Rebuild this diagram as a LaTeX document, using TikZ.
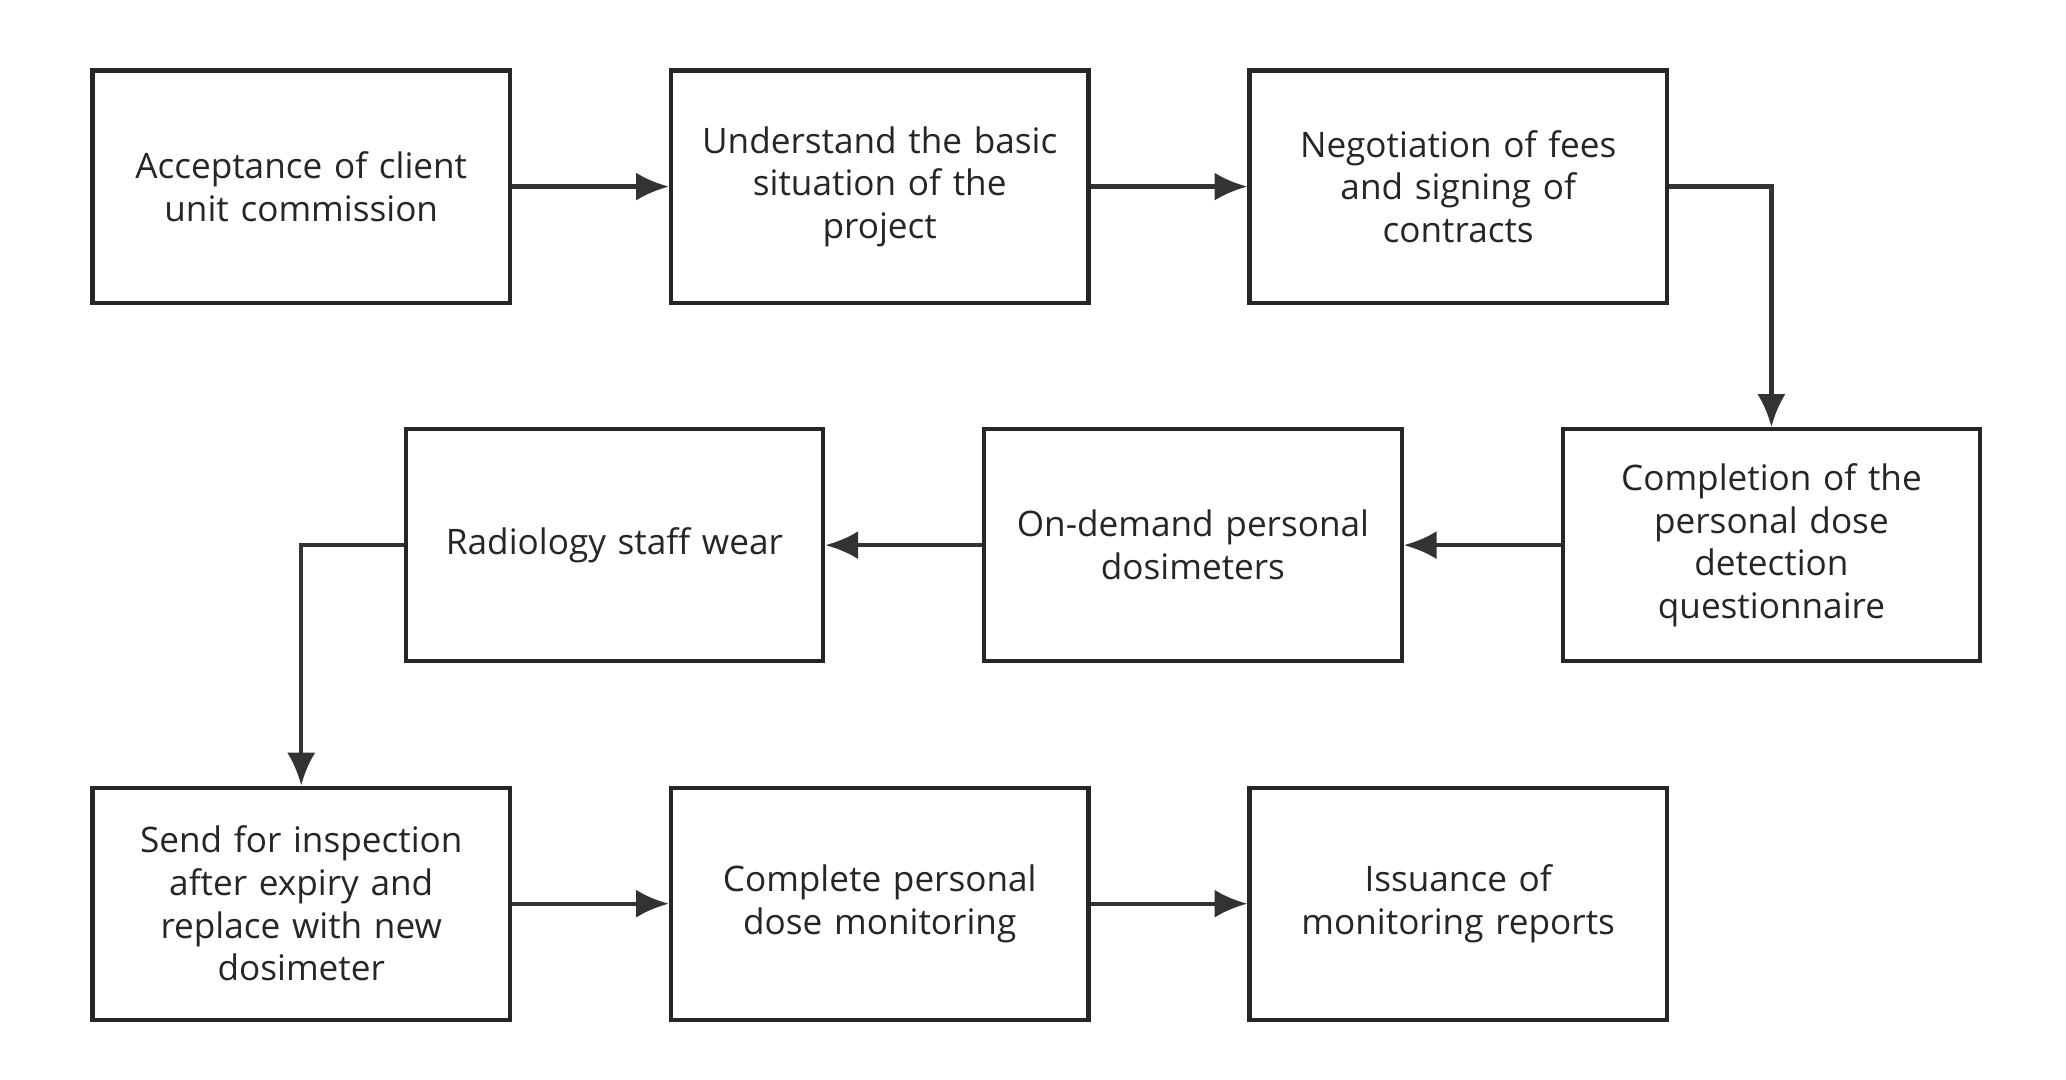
\documentclass[tikz,border=0pt]{standalone}
\usepackage{fontspec}
\setmainfont{Open Sans}
\usetikzlibrary{arrows.meta}
\begin{document}
\begin{tikzpicture}[x=0.01cm, y=-0.01cm]
            \tikzstyle{stepBox} = [draw=black!85, line width=0.9pt, fill=white,
                minimum width=3.13cm, minimum height=1.74cm, align=center,
                text width=2.9cm, inner sep=0pt, font=\fontsize{7.5}{9.1}\selectfont, text=black!85]
            \tikzstyle{flowEdge} = [draw=black!80, line width=0.9pt,
                -{Latex[length=7pt, width=6pt]}]
            \useasboundingbox (0,0) rectangle (1550,810);
            \node[stepBox] (1) at (226,140) {Acceptance of client\\unit commission};
            \node[stepBox] (2) at (660,140) {Understand the basic\\situation of the\\project};
            \node[stepBox] (3) at (1094,140) {Negotiation of fees\\and signing of\\contracts};
            \node[stepBox] (4) at (1329,409) {Completion of the\\personal dose\\detection\\questionnaire};
            \node[stepBox] (5) at (895,409) {On-demand personal\\dosimeters};
            \node[stepBox] (6) at (461,409) {Radiology staff wear};
            \node[stepBox] (7) at (226,678) {Send for inspection\\after expiry and\\replace with new\\dosimeter};
            \node[stepBox] (8) at (660,678) {Complete personal\\dose monitoring};
            \node[stepBox] (9) at (1094,678) {Issuance of\\monitoring reports};
            \foreach \from/\to in {1/2,2/3,4/5,5/6,7/8,8/9}
                \path[flowEdge] (\from) -- (\to);
            \path[flowEdge] (3.east) -| (4.north);
            \path[flowEdge] (6.west) -| (7.north);
        \end{tikzpicture}
\end{document}
